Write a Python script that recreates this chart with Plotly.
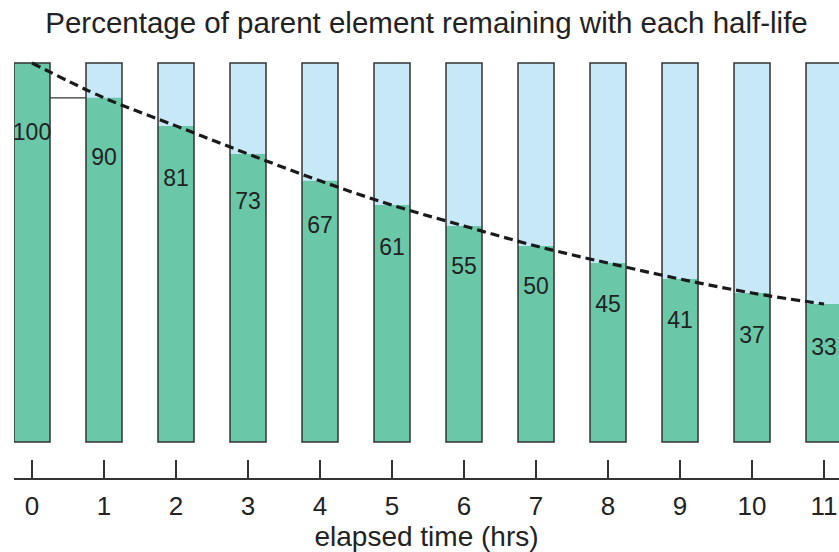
import plotly.graph_objects as go

# ---- data ----
hours = list(range(12))
remaining = [100, 90.8, 83.4, 76.0, 68.9, 62.5, 57.0, 51.7, 47.2, 43.0, 39.3, 36.4]
value_labels = ["100", "90", "81", "73", "67", "61", "55", "50", "45", "41", "37", "33"]
total = [100] * 12
tick_labels = [str(h) for h in hours]

# ---- styling ----
GREEN = "#6AC8A9"
BLUE = "#C7E8F7"
EDGE = "#333333"
TEXT = "#222222"
FONT = "Liberation Sans, Arial, Helvetica, sans-serif"
BAR_W = 0.5

# label positions derived from the bar heights (placed inside the green bars)
label_y = [g - (11.2 + 0.0033 * (g - 52) ** 2) for g in remaining]

fig = go.Figure()
fig.add_trace(go.Bar(x=hours, y=total, width=BAR_W, marker=dict(color=BLUE, line=dict(width=0)),
                     hoverinfo="skip"))
fig.add_trace(go.Bar(x=hours, y=remaining, width=BAR_W, marker=dict(color=GREEN, line=dict(width=0))))
fig.add_trace(go.Bar(x=hours, y=total, width=BAR_W,
                     marker=dict(color="rgba(0,0,0,0)", line=dict(color=EDGE, width=1.5)),
                     hoverinfo="skip"))
# connector between first two bars at level of second bar
fig.add_trace(go.Scatter(x=[hours[0] + BAR_W / 2, hours[1] - BAR_W / 2], y=[remaining[1], remaining[1]],
                         mode="lines", line=dict(color=EDGE, width=1.2), hoverinfo="skip"))
# dashed decay curve through bar tops
fig.add_trace(go.Scatter(x=hours, y=remaining, mode="lines", line_shape="spline",
                         line=dict(color="#1a1a1a", width=3.2, dash="9px,5px")))
fig.add_trace(go.Scatter(x=hours, y=label_y, mode="text", text=value_labels,
                         textfont=dict(family=FONT, size=23, color=TEXT), hoverinfo="skip",
                         cliponaxis=False))

fig.update_layout(
    width=839, height=552,
    margin=dict(l=14, r=0, t=55, b=74, autoexpand=False),
    paper_bgcolor="white", plot_bgcolor="white",
    barmode="overlay", showlegend=False,
    title=dict(text="Percentage of parent element remaining with each half-life",
               font=dict(family=FONT, size=29.5, color=TEXT),
               xref="paper", x=0.5, xanchor="center",
               yref="container", y=1 - 23 / 552, yanchor="middle"),
    xaxis=dict(range=[-0.25, 11.208], tickmode="array", tickvals=hours, ticktext=tick_labels,
               showgrid=False, zeroline=False, showline=True, linecolor=EDGE, linewidth=2,
               ticks="inside", ticklen=18, tickwidth=1.5, tickcolor=EDGE,
               ticklabelstandoff=4, automargin=False,
               tickfont=dict(family=FONT, size=26, color=TEXT),
               title=dict(text="elapsed time (hrs)", font=dict(family=FONT, size=28, color=TEXT),
                          standoff=2)),
    yaxis=dict(range=[-9.5, 102.1], visible=False, showgrid=False, zeroline=False),
)

fig.write_html("out.html", config={"displayModeBar": False},
               post_script="document.body.style.margin='0';document.body.style.overflow='hidden';")
